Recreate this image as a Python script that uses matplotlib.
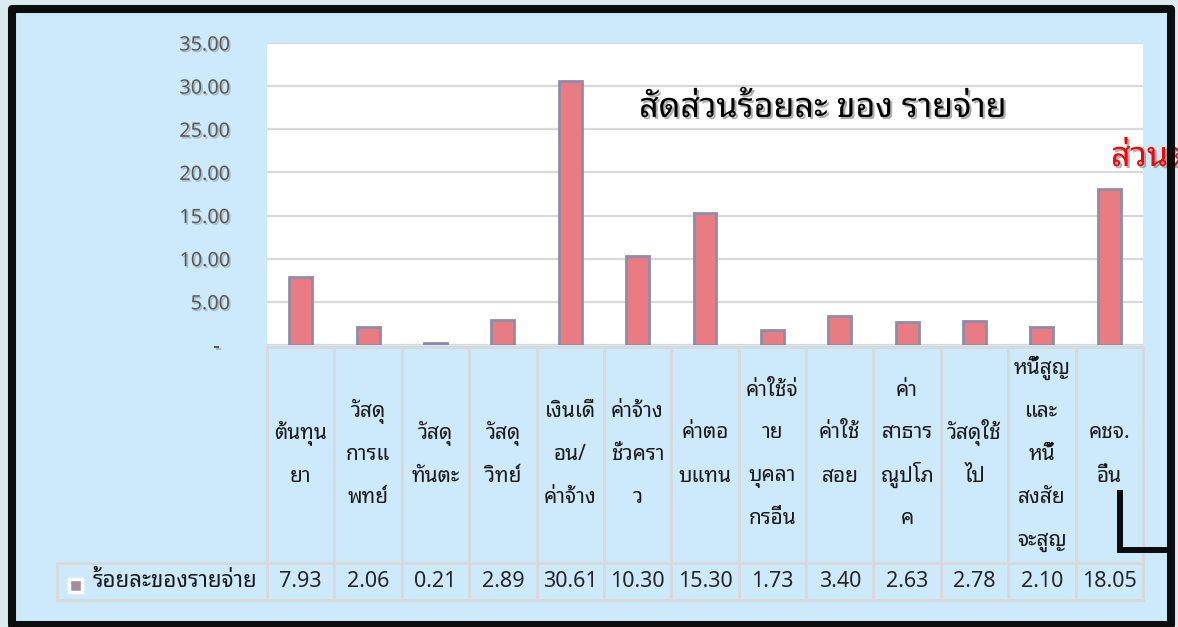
"""Expense share bar chart with Excel-style data table (Thai labels)."""
import matplotlib
matplotlib.use("Agg")
import matplotlib.pyplot as plt
from matplotlib import font_manager, patheffects
from matplotlib.ft2font import FT2Font
from matplotlib.patches import Rectangle
from matplotlib.transforms import Bbox, TransformedBbox

categories = [
    "ต้นทุน\nยา",
    "วัสดุ\nการแ\nพทย์",
    "วัสดุ\nทันตะ",
    "วัสดุ\nวิทย์",
    "เงินเดื\nอน/\nค่าจ้าง",
    "ค่าจ้าง\nชั่วครา\nว",
    "ค่าตอ\nบแทน",
    "ค่าใช้จ่\nาย\nบุคลา\nกรอื่น",
    "ค่าใช้\nสอย",
    "ค่า\nสาธาร\nณูปโภ\nค",
    "วัสดุใช้\nไป",
    "หนี้สูญ\nและ\nหนี้\nสงสัย\nจะสูญ",
    "คชจ.\nอื่น",
]
values = [7.93, 2.06, 0.21, 2.89, 30.61, 10.30, 15.30, 1.73, 3.40, 2.63, 2.78, 2.10, 18.05]
series_name = "ร้อยละของรายจ่าย"
yticks = [0, 5, 10, 15, 20, 25, 30, 35]
ytick_labels = ["-  ", "5.00", "10.00", "15.00", "20.00", "25.00", "30.00", "35.00"]
title = "สัดส่วนร้อยละ ของ รายจ่าย"
side_note = "ส่วนต่าง"


def find_thai_font():
    # looped (Tahoma-like) faces first, loopless as fallback
    prefer = ["Noto Sans Thai Looped", "Noto Looped Thai", "Noto Looped Thai UI",
              "Loma", "Waree", "Garuda", "Tlwg Typo", "Umpush",
              "Noto Sans Thai", "Noto Sans Thai UI", "Sarabun"]
    found = {}
    for f in font_manager.fontManager.ttflist:
        try:
            if FT2Font(f.fname).get_char_index(0x0E2A):
                found.setdefault(f.name, f.fname)
        except Exception:
            pass
    for p in prefer:
        if p in found:
            return p
    return next(iter(found), None)


thai = find_thai_font()
fams = ([thai] if thai else []) + ["Noto Sans", "DejaVu Sans"]
plt.rcParams["font.family"] = fams
num_fam = ["Noto Sans", "DejaVu Sans"]

W, H = 1178, 627
fig = plt.figure(figsize=(W / 100, H / 100), dpi=100)
fig.patch.set_facecolor("#d9ebed")
fig.patches.append(Rectangle((12 / W, 0), (1171 - 12) / W, 1 - 9 / H,
                             transform=fig.transFigure, facecolor="#cdeafc",
                             edgecolor="none", zorder=-5))

# chart area
ax = fig.add_axes([267 / W, 1 - 345 / H, (1143 - 267) / W, (345 - 43) / H])
ax.set_facecolor("white")
n = len(values)
x = list(range(n))
ax.bar(x, values, width=0.34, color="#e97b83", edgecolor="#8f8ca8", linewidth=2, zorder=3)
ax.set_xlim(-0.5, n - 0.5)
ax.set_ylim(0, 35)
ax.set_yticks(yticks, ytick_labels)
ax.set_xticks([])
ax.yaxis.grid(True, color="#d9d9d9", lw=1.6)
ax.set_axisbelow(True)
for s in ax.spines.values():
    s.set_visible(False)
ax.tick_params(axis="y", length=0, pad=26.6, labelsize=14.3, labelcolor="#595959")
shadow = [patheffects.withSimplePatchShadow(offset=(1.2, -1.2), shadow_rgbFace="#8a8a8a", alpha=0.5)]
for t in ax.yaxis.get_major_ticks():
    t.label1.set_fontfamily(num_fam)
    t.label1.set_path_effects(shadow)

# overlay in pixel coordinates for the data table and frame
tab = fig.add_axes([0, 0, 1, 1], zorder=2)
tab.set_xlim(0, W)
tab.set_ylim(H, 0)
tab.axis("off")
tab.patch.set_visible(False)

to_fig = ax.transData + fig.transFigure.inverted()
bounds = [to_fig.transform((i - 0.5, 0))[0] * W for i in range(n + 1)]
centers = [(bounds[i] + bounds[i + 1]) / 2 for i in range(n)]

grid_c = "#d9d9d9"
top, mid, bot, left = 347, 563, 600, 57
tab.plot([bounds[0], bounds[-1]], [top, top], color=grid_c, lw=2)
tab.plot([left, bounds[-1]], [mid, mid], color=grid_c, lw=2)
tab.plot([left, bounds[-1]], [bot, bot], color=grid_c, lw=2)
tab.plot([left, left], [mid, bot], color=grid_c, lw=2)
for b in bounds:
    tab.plot([b, b], [top, bot], color=grid_c, lw=2)

fs_th = 15
line_h = 43
head_c = (top + mid) / 2
for cx, lab, v in zip(centers, categories, values):
    lines = lab.split("\n")
    k = len(lines)
    for j, ln in enumerate(lines):
        y = head_c + (j - (k - 1) / 2) * line_h + 5
        tab.text(cx, y, ln, ha="center", va="baseline", fontsize=fs_th, color="#1a1a1a")
    tab.text(cx, (mid + bot) / 2, f"{v:.2f}", ha="center", va="center",
             fontsize=15.5, color="#262626", family=num_fam)

# legend key in table
tab.add_patch(Rectangle((69, 579), 13, 13, facecolor="#a68b9d", edgecolor="white", lw=2.5))
tab.text(93, (mid + bot) / 2, series_name, ha="left", va="center", fontsize=fs_th + 1,
         color="#1a1a1a")

# titles
tshadow = [patheffects.withSimplePatchShadow(offset=(1.5, -1.5), shadow_rgbFace="#777777", alpha=0.6)]
tab.text(823, 108, title, ha="center", va="center", fontsize=24.5, fontweight="bold",
         style="italic", color="black", path_effects=tshadow)
note = tab.text(1111, 157, side_note, ha="left", va="center", fontsize=24.5, fontweight="bold",
                style="italic", color="#ff0000", path_effects=tshadow)
note.set_clip_box(TransformedBbox(Bbox([[0, 0], [1168, H]]), tab.transData))

# callout bracket and black frame
tab.plot([1120, 1120, 1170], [493, 550, 550], color="#0d0d0d", lw=4.3, solid_joinstyle="miter")
tab.add_patch(Rectangle((12, 9), 1171 - 12, 625 - 9, facecolor="none", edgecolor="#0d0d0d",
                        lw=5.8, joinstyle="round", zorder=10))

fig.savefig("out.png", dpi=100)
